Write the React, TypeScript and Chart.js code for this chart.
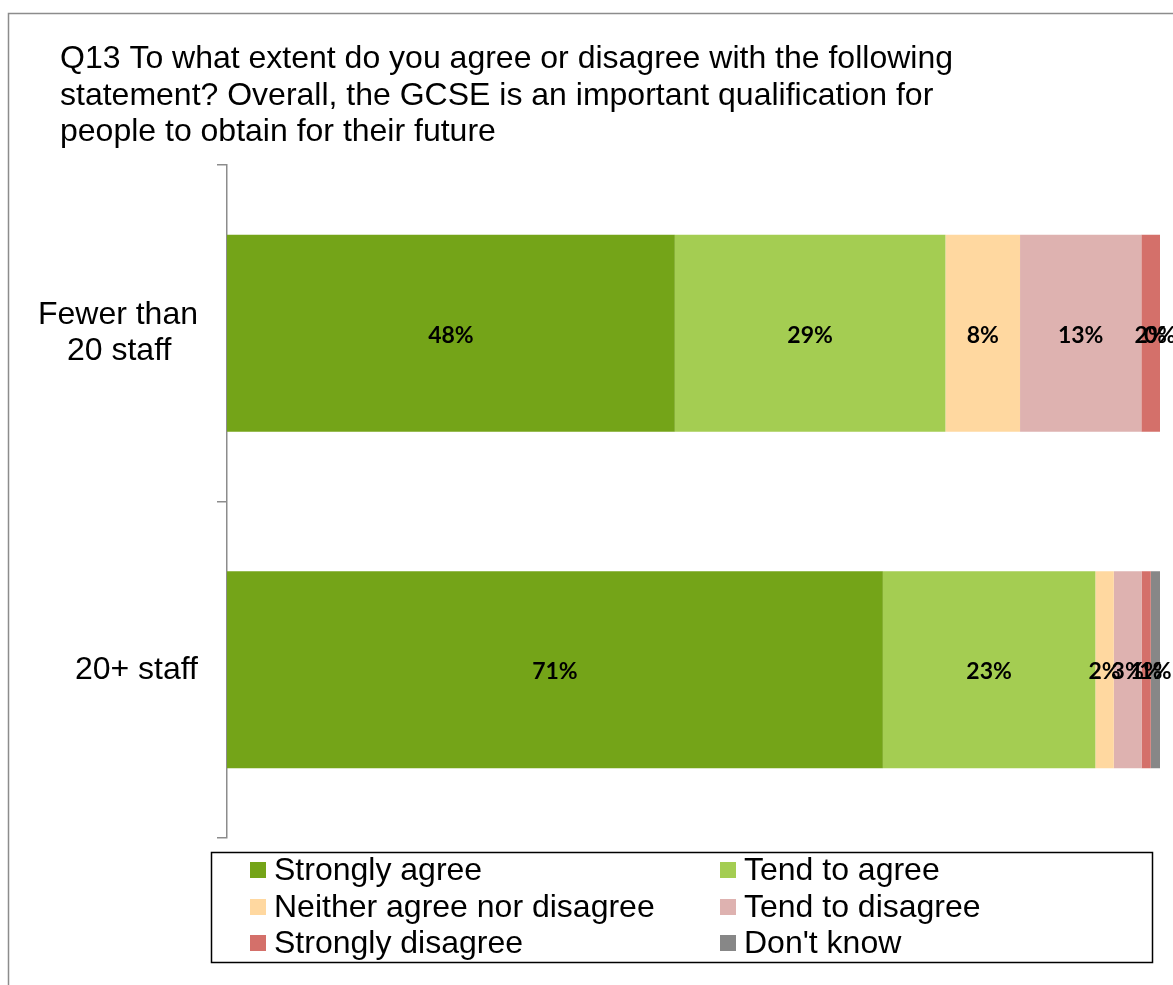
import React, { useEffect, useRef } from "react";
import { Chart, registerables } from "chart.js";

Chart.register(...registerables);

const titleLines = [
  "Q13 To what extent do you agree or disagree with the following",
  "statement? Overall, the GCSE is an important qualification for",
  "people to obtain for their future",
];
const categories: (string | string[])[] = [["Fewer than", "20 staff"], "20+ staff"];
const seriesNames = [
  "Strongly agree",
  "Tend to agree",
  "Neither agree nor disagree",
  "Tend to disagree",
  "Strongly disagree",
  "Don't know",
];
const seriesColors = ["#74A418", "#A4CD52", "#FFD8A0", "#DEB2B0", "#D4706A", "#878787"];
const stronglyAgree = [48, 71];
const tendToAgree = [29, 23];
const neitherAgree = [8, 2];
const tendToDisagree = [13, 3];
const stronglyDisagree = [2, 1];
const dontKnow = [0, 1];
const seriesValues = [stronglyAgree, tendToAgree, neitherAgree, tendToDisagree, stronglyDisagree, dontKnow];

const SANS = '"Liberation Sans", Arial, sans-serif';
const TEXT_SIZE = 32;

export default function App() {
  const ref = useRef<HTMLCanvasElement | null>(null);

  useEffect(() => {
    if (!ref.current) return;
    const rowTotals = categories.map((_, j) => seriesValues.reduce((s, arr) => s + arr[j], 0));

    const measure = document.createElement("canvas").getContext("2d")!;
    measure.font = `${TEXT_SIZE}px ${SANS}`;
    const spaceW = measure.measureText(" ").width;

    const framePlugin = {
      id: "frame",
      beforeDraw(chart: any) {
        const ctx = chart.ctx;
        ctx.save();
        ctx.fillStyle = "#fff";
        ctx.fillRect(0, 0, chart.width, chart.height);
        ctx.strokeStyle = "#8c8c8c";
        ctx.lineWidth = 1.5;
        ctx.strokeRect(8.5, 13.5, chart.width + 20, chart.height + 20);
        ctx.fillStyle = "#000";
        ctx.font = `${TEXT_SIZE}px ${SANS}`;
        ctx.textBaseline = "alphabetic";
        ctx.textAlign = "left";
        titleLines.forEach((line, i) => ctx.fillText(line, 60, 68 + i * 36.5));
        ctx.restore();
      },
    };

    const labelPlugin = {
      id: "segLabels",
      afterDatasetsDraw(chart: any) {
        const ctx = chart.ctx;
        ctx.save();
        ctx.font = `bold 23px Lato, "Open Sans", sans-serif`;
        ctx.fillStyle = "#000";
        ctx.textAlign = "center";
        ctx.textBaseline = "middle";
        chart.data.datasets.forEach((_: any, i: number) => {
          const meta = chart.getDatasetMeta(i);
          meta.data.forEach((bar: any, j: number) => {
            const { x, base, y } = bar.getProps(["x", "base", "y"], true);
            ctx.fillText(`${seriesValues[i][j]}%`, (x + base) / 2, y + 2);
          });
        });
        ctx.restore();
      },
    };

    const legendPlugin = {
      id: "boxLegend",
      afterDraw(chart: any) {
        const ctx = chart.ctx;
        ctx.save();
        ctx.strokeStyle = "#000";
        ctx.lineWidth = 1.5;
        ctx.strokeRect(211.5, 852.5, 941, 110);
        const cols = [250, 720];
        const rows = [870, 907, 943];
        ctx.font = `${TEXT_SIZE}px ${SANS}`;
        ctx.textAlign = "left";
        ctx.textBaseline = "middle";
        chart.data.datasets.forEach((ds: any, i: number) => {
          const cx = cols[i % 2];
          const cy = rows[Math.floor(i / 2)];
          ctx.fillStyle = ds.backgroundColor;
          ctx.fillRect(cx, cy - 8, 16, 16);
          ctx.fillStyle = "#000";
          ctx.fillText(ds.label, cx + 24, cy + 1);
        });
        ctx.restore();
      },
    };

    const chart = new Chart(ref.current, {
      type: "bar",
      data: {
        labels: categories as any,
        datasets: seriesNames.map((name, i) => ({
          label: name,
          data: seriesValues[i].map((v, j) => (v / rowTotals[j]) * 100),
          backgroundColor: seriesColors[i],
          borderWidth: 0,
          categoryPercentage: 1,
          barPercentage: 0.586,
        })),
      },
      options: {
        indexAxis: "y",
        responsive: false,
        animation: false,
        events: [],
        layout: { padding: { top: 165, bottom: 147, left: 0, right: 13 } },
        plugins: {
          legend: { display: false },
          title: { display: false },
          tooltip: { enabled: false },
        },
        scales: {
          x: { stacked: true, min: 0, max: 100, display: false },
          y: {
            stacked: true,
            afterFit: (scale: any) => {
              scale.width = 227;
            },
            grid: { drawOnChartArea: false, tickLength: 10, color: "#8c8c8c", lineWidth: 1.5, offset: true },
            border: { display: true, color: "#8c8c8c", width: 1.5 },
            ticks: {
              color: "#000",
              padding: 19,
              crossAlign: "near",
              font: { family: SANS, size: TEXT_SIZE, lineHeight: 36 / TEXT_SIZE },
              callback: function (this: any, value: any) {
                const lbl = this.getLabelForValue(value);
                if (!Array.isArray(lbl)) return lbl;
                const widths = lbl.map((l: string) => measure.measureText(l).width);
                const widest = Math.max(...widths);
                return lbl.map((l: string, k: number) => l + " ".repeat(Math.round((widest - widths[k]) / 2 / spaceW)));
              },
            },
          },
        },
      },
      plugins: [framePlugin, labelPlugin, legendPlugin],
    });
    return () => chart.destroy();
  }, []);

  return (
    <div style={{ position: "fixed", left: 0, top: 0, width: 1173, height: 985 }}>
      <canvas ref={ref} width={1173} height={985} style={{ width: 1173, height: 985, display: "block" }} />
    </div>
  );
}
